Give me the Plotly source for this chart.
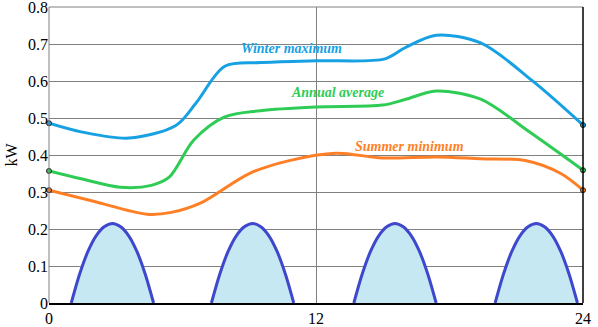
import plotly.graph_objects as go

# Hourly load curves (kW)
winter_hours = [0, 1.5, 3.6, 5.7, 6.6, 7.9, 9.5, 12, 15.1, 16.0, 17.4, 19.4, 21.8, 24]
winter_kw = [0.486, 0.462, 0.446, 0.48, 0.54, 0.64, 0.65, 0.655, 0.66, 0.69, 0.724, 0.703, 0.597, 0.481]

average_hours = [0, 1.5, 3.2, 4.6, 5.4, 6.5, 7.9, 9.5, 12, 15.0, 16.0, 17.4, 19.4, 21.6, 24]
average_kw = [0.357, 0.335, 0.313, 0.318, 0.34, 0.44, 0.503, 0.52, 0.53, 0.535, 0.55, 0.573, 0.551, 0.462, 0.359]

summer_hours = [0, 2.0, 4.4, 5.5, 6.8, 9.0, 10.8, 12.9, 15.0, 17.4, 19.4, 21.4, 23.0, 24]
summer_kw = [0.305, 0.275, 0.24, 0.245, 0.27, 0.35, 0.385, 0.405, 0.392, 0.395, 0.39, 0.385, 0.35, 0.305]

# Generation humps: start hours, common width and the shape of one hump
hump_starts = [1.0, 7.3, 13.7, 20.05]
hump_width = 3.7
hump_fracs = [0, 0.1, 0.2, 0.3, 0.4, 0.5, 0.6, 0.7, 0.8, 0.9, 1.0]
hump_kw = [0, 0.077, 0.138, 0.181, 0.206, 0.215, 0.206, 0.181, 0.138, 0.077, 0]

x_ticks = [0, 12, 24]
y_ticks = [0, 0.1, 0.2, 0.3, 0.4, 0.5, 0.6, 0.7, 0.8]

BLUE = "#17a1e3"
GREEN = "#2ecc55"
ORANGE = "#ff7f27"
HUMP_LINE = "#3f48cc"
HUMP_FILL = "#c6e8f3"
SERIF = "Liberation Serif"

fig = go.Figure()

for start in hump_starts:
    fig.add_trace(go.Scatter(
        x=[start + f * hump_width for f in hump_fracs],
        y=hump_kw,
        mode="lines",
        line=dict(color=HUMP_LINE, width=3, shape="spline", smoothing=0.8),
        fill="tozeroy",
        fillcolor=HUMP_FILL,
        hoverinfo="skip",
        showlegend=False,
    ))

for hrs, vals, col in [(summer_hours, summer_kw, ORANGE),
                       (average_hours, average_kw, GREEN),
                       (winter_hours, winter_kw, BLUE)]:
    fig.add_trace(go.Scatter(
        x=hrs, y=vals, mode="lines",
        line=dict(color=col, width=3, shape="spline", smoothing=0.9),
        showlegend=False,
    ))
    fig.add_trace(go.Scatter(
        x=[hrs[0], hrs[-1]], y=[vals[0], vals[-1]], mode="markers",
        marker=dict(color=col, size=5, line=dict(color="#222222", width=1)),
        cliponaxis=False, showlegend=False,
    ))

labels = [("Winter maximum", 10.9, 0.687, BLUE),
          ("Annual average", 12.95, 0.568, GREEN),
          ("Summer minimum", 16.2, 0.424, ORANGE)]
for text, lx, ly, col in labels:
    fig.add_annotation(x=lx, y=ly, text="<b><i>" + text + "</i></b>", showarrow=False,
                       font=dict(family=SERIF, size=14, color=col))

# frame: grey top and left, black right edge
fig.add_shape(type="line", xref="paper", yref="paper", x0=0, x1=1, y0=1, y1=1,
              line=dict(color="#808080", width=1))
fig.add_shape(type="line", xref="paper", yref="paper", x0=0, x1=0, y0=0, y1=1,
              line=dict(color="#808080", width=1))
fig.add_shape(type="line", xref="paper", yref="paper", x0=1, x1=1, y0=0, y1=1,
              line=dict(color="black", width=1.5))

fig.update_layout(
    width=598, height=327,
    margin=dict(l=49, r=15, t=7, b=24),
    paper_bgcolor="white", plot_bgcolor="white",
    font=dict(family=SERIF, size=16, color="black"),
)
fig.update_xaxes(
    range=[0, 24], tickvals=x_ticks, ticktext=[str(v) for v in x_ticks],
    showgrid=True, gridcolor="#808080", gridwidth=1,
    showline=True, linecolor="black", linewidth=1.5,
    zeroline=False, ticks="", tickfont=dict(family=SERIF, size=16),
    ticklabeloverflow="allow", automargin=False,
)
fig.update_yaxes(
    range=[0, 0.8002], tickvals=y_ticks, ticktext=[("%g" % v) for v in y_ticks],
    showgrid=True, gridcolor="#808080", gridwidth=1,
    showline=False, zeroline=False, ticks="", ticklen=6,
    tickfont=dict(family=SERIF, size=16),
    ticklabeloverflow="allow", automargin=False,
    title=dict(text="kW", font=dict(family=SERIF, size=16), standoff=6),
)

fig.write_html("out.html")
